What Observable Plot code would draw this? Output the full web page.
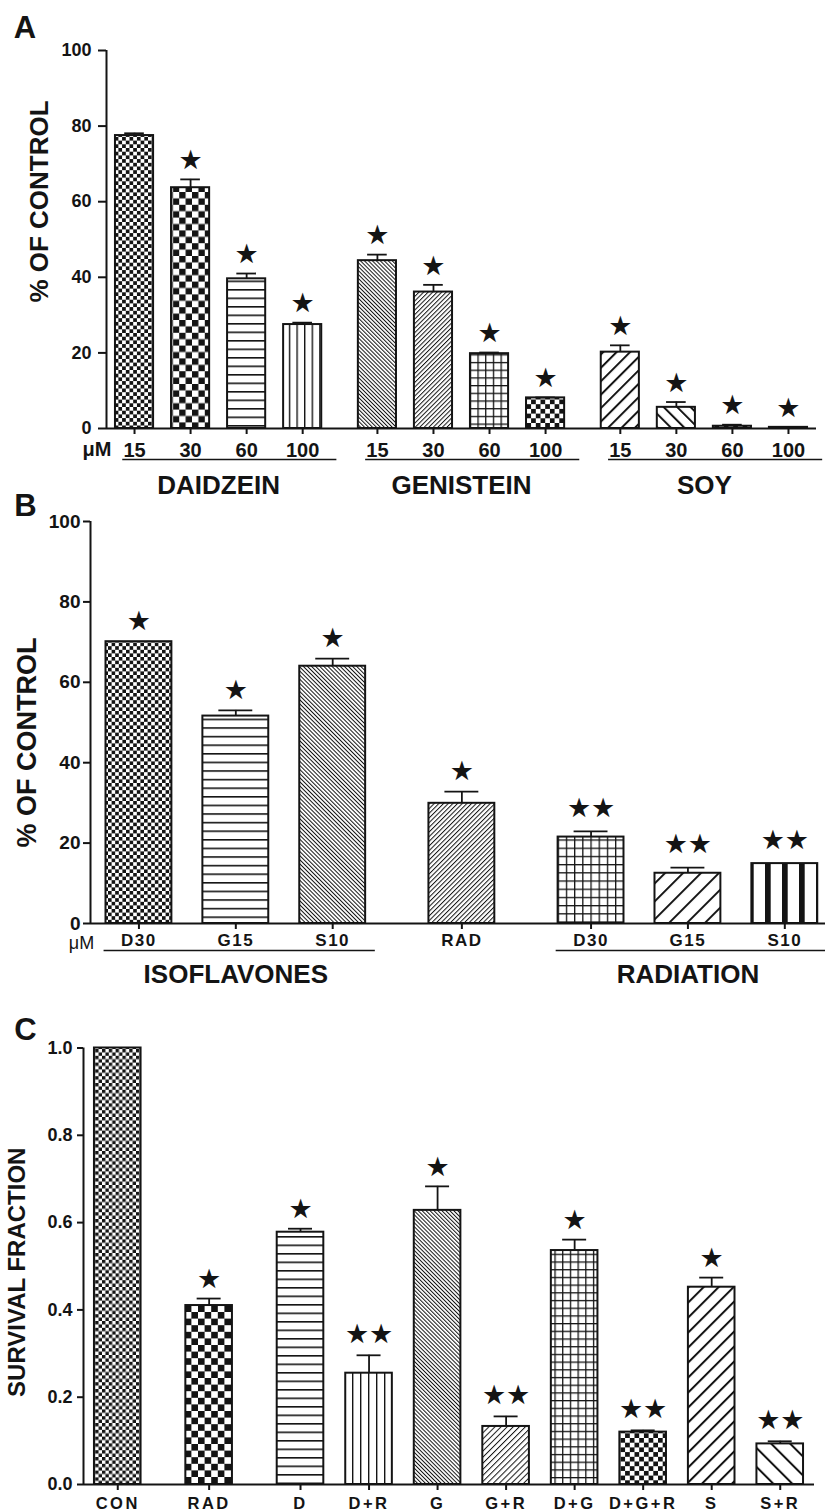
<!DOCTYPE html>
<html><head><meta charset="utf-8">
<script src="https://cdn.jsdelivr.net/npm/d3@7"></script>
<script src="https://cdn.jsdelivr.net/npm/@observablehq/plot@0.6"></script>
<style>
html,body{margin:0;padding:0;background:#fff;}
#root{width:825px;}
#root svg{display:block;overflow:visible;}
#panelB g[aria-label="x-axis tick label"]{letter-spacing:1.5px;}
#panelC g[aria-label="x-axis tick label"]{letter-spacing:2.5px;}
</style></head><body>
<svg id="patterns" width="0" height="0" style="position:absolute"><defs id="pdefs"></defs></svg>
<div id="root"></div>
<script>
// ================= DATA =================
// Panel A: % of control by dose (µM)
const aGroupNames = ["DAIDZEIN", "GENISTEIN", "SOY"];
const aGroupIndex = [0, 0, 0, 0, 1, 1, 1, 1, 2, 2, 2, 2];
const aLabels = ["15", "30", "60", "100", "15", "30", "60", "100", "15", "30", "60", "100"];
const aValues = [77.5, 63.7, 39.6, 27.5, 44.4, 36.1, 19.8, 8.1, 20.2, 5.6, 0.6, 0.3];
const aErrors = [0.6, 2.2, 1.4, 0.5, 1.6, 1.9, 0.3, 0.1, 1.8, 1.4, 0.4, 0.1];
const aStars = [0, 1, 1, 1, 1, 1, 1, 1, 1, 1, 1, 1];
const aYTicks = [0, 20, 40, 60, 80, 100];

// Panel B: % of control, isoflavones / radiation
const bGroupNames = ["ISOFLAVONES", "", "RADIATION"];
const bGroupIndex = [0, 0, 0, 1, 2, 2, 2];
const bLabels = ["D30", "G15", "S10", "RAD", "D30", "G15", "S10"];
const bValues = [70.1, 51.6, 64.0, 29.9, 21.5, 12.5, 14.9];
const bErrors = [0, 1.4, 1.9, 2.9, 1.4, 1.4, 0];
const bStars = [1, 1, 1, 1, 2, 2, 2];
const bYTicks = [0, 20, 40, 60, 80, 100];

// Panel C: survival fraction
const cGroupIndex = [0, 1, 2, 2, 2, 2, 2, 2, 2, 2];
const cLabels = ["CON", "RAD", "D", "D+R", "G", "G+R", "D+G", "D+G+R", "S", "S+R"];
const cValues = [1.0, 0.41, 0.578, 0.255, 0.628, 0.133, 0.536, 0.12, 0.452, 0.093];
const cErrors = [0, 0.016, 0.008, 0.041, 0.055, 0.023, 0.025, 0.004, 0.022, 0.006];
const cStars = [0, 1, 1, 2, 1, 2, 1, 2, 1, 2];
const cYTicks = [0, 0.2, 0.4, 0.6, 0.8, 1.0];

// ================= STYLE =================
const INK = "#141414";
const FONT = "'Liberation Sans', Arial, Helvetica, sans-serif";
const STAR_FONT = "'DejaVu Sans', sans-serif";
const GAP = 1 / 3;        // extra slot between groups
const HALF_BAR = 0.34;    // half bar width (slots)
const HALF_CAP = 0.175;   // half error-cap width (slots)

// fill patterns for each bar
const aFills = ["a_chkF", "a_chkL", "a_hl", "a_vl", "a_bsD", "a_fsD", "a_grid", "a_chkM", "a_fsW", "a_bsW", "a_chkM", "a_chkM"];
const bFills = ["b_chkF", "b_hl", "b_bsD", "b_fsD", "b_grid", "b_fsW", "b_vbar"];
const cFills = ["c_chkF", "c_chkL", "c_hl", "c_vl", "c_bsD", "c_fsM", "c_grid", "c_chkM", "c_fsW", "c_bsW"];

function checker(id, c) {
  const s = 2 * c;
  return `<pattern id="${id}" width="${s}" height="${s}" patternUnits="userSpaceOnUse"><rect width="${s}" height="${s}" fill="#fff"/><rect width="${c}" height="${c}" fill="${INK}"/><rect x="${c}" y="${c}" width="${c}" height="${c}" fill="${INK}"/></pattern>`;
}
function lines(id, p, w, angle) {
  return `<pattern id="${id}" width="${p}" height="${p}" patternUnits="userSpaceOnUse" patternTransform="rotate(${angle})"><rect width="${p}" height="${p}" fill="#fff"/><rect width="${w}" height="${p}" fill="${INK}"/></pattern>`;
}
function grid(id, p, w) {
  return `<pattern id="${id}" width="${p}" height="${p}" patternUnits="userSpaceOnUse"><rect width="${p}" height="${p}" fill="#fff"/><rect width="${w}" height="${p}" fill="${INK}"/><rect width="${p}" height="${w}" fill="${INK}"/></pattern>`;
}
document.getElementById("pdefs").innerHTML = [
  checker("a_chkF", 3.7), checker("a_chkL", 6.4), lines("a_hl", 8.5, 1.6, 90), lines("a_vl", 7.6, 1.4, 0),
  lines("a_bsD", 2.8, 1, -45), lines("a_fsD", 3.2, 1, 45), grid("a_grid", 7.7, 1.3), checker("a_chkM", 4.7),
  lines("a_fsW", 9.5, 2, 45), lines("a_bsW", 9.5, 2, -45),
  checker("b_chkF", 3.6), lines("b_hl", 8.6, 1.6, 90), lines("b_bsD", 2.9, 1, -45), lines("b_fsD", 3.3, 1, 45),
  grid("b_grid", 8.2, 1.3), lines("b_fsW", 12.7, 2, 45), lines("b_vbar", 17, 5.7, 0),
  checker("c_chkF", 3.4), checker("c_chkL", 6.6), lines("c_hl", 8.5, 1.6, 90), lines("c_vl", 8, 1.4, 0),
  lines("c_bsD", 2.8, 1, -45), lines("c_fsM", 4.3, 1, 45), grid("c_grid", 7.7, 1.3), checker("c_chkM", 4.7),
  lines("c_fsW", 10.6, 2, 45), lines("c_bsW", 13.4, 2, -45)
].join("");

// ================= HELPERS =================
function buildRows(labels, groups, values, errors, stars, fills) {
  return labels.map((label, i) => ({
    label, group: groups[i], pos: i + groups[i] * GAP,
    value: values[i], err: errors[i], stars: stars[i], fill: `url(#${fills[i]})`
  }));
}
function groupSpans(rows, names) {
  return names.map((name, g) => {
    const r = rows.filter(d => d.group === g);
    return {name, first: r[0].pos, last: r[r.length - 1].pos, center: (r[0].pos + r[r.length - 1].pos) / 2};
  }).filter(d => d.name);
}
const errTop = d => d.value + d.err;
function barMarks(rows, starGap, starGap2) {
  const withErr = rows.filter(d => d.err > 0);
  const sf = {fontFamily: STAR_FONT, fontSize: 27, fill: INK, lineAnchor: "middle"};
  return [
    Plot.rect(rows, {x1: d => d.pos - HALF_BAR, x2: d => d.pos + HALF_BAR, y1: 0, y2: "value", fill: "fill", stroke: INK, strokeWidth: 2}),
    Plot.ruleX(withErr, {x: "pos", y1: "value", y2: errTop, stroke: INK, strokeWidth: 1.8}),
    Plot.ruleY(withErr, {y: errTop, x1: d => d.pos - HALF_CAP, x2: d => d.pos + HALF_CAP, stroke: INK, strokeWidth: 1.8}),
    Plot.text(rows.filter(d => d.stars === 1), {x: "pos", y: errTop, text: () => "★", dy: -starGap, ...sf}),
    Plot.text(rows.filter(d => d.stars === 2), {x: "pos", y: errTop, text: () => "★", dx: -12, dy: -starGap2, ...sf}),
    Plot.text(rows.filter(d => d.stars === 2), {x: "pos", y: errTop, text: () => "★", dx: 12, dy: -starGap2, ...sf})
  ];
}
function axisMarks(rows, yTicks, yMax, xMin, o) {
  const labelOf = new Map(rows.map(d => [d.pos, d.label]));
  return [
    Plot.ruleY([0], {stroke: INK, strokeWidth: 2}),
    Plot.ruleX([xMin], {y1: 0, y2: yMax, stroke: INK, strokeWidth: 2}),
    Plot.axisY({ticks: yTicks, tickFormat: o.yFormat, tickSize: o.yTickSize, tickPadding: o.yPad, fontSize: o.yFont, fontWeight: "bold", strokeWidth: 2, label: null, fill: INK, stroke: INK}),
    Plot.axisX({ticks: rows.map(d => d.pos), tickFormat: p => labelOf.get(p), tickSize: 6, tickPadding: o.xPad, fontSize: o.xFont, fontWeight: "bold", strokeWidth: 2, label: null, fill: INK, stroke: INK})
  ];
}
function note(txt, opts) {
  return Plot.text([txt], {text: d => d, textAnchor: "middle", lineAnchor: "middle", fill: INK, fontWeight: "bold", ...opts});
}

const root = document.getElementById("root");

// ================= PANEL A =================
{
  const rows = buildRows(aLabels, aGroupIndex, aValues, aErrors, aStars, aFills);
  const groups = groupSpans(rows, aGroupNames);
  const xMin = -0.5, xMax = rows[rows.length - 1].pos + 0.5;
  const p = Plot.plot({
    width: 825, height: 495,
    marginTop: 50, marginBottom: 67, marginLeft: 106, marginRight: 9,
    x: {domain: [xMin, xMax], axis: null},
    y: {domain: [0, 100], axis: null},
    color: {type: "identity"},
    style: {fontFamily: FONT, color: INK, background: "#fff"},
    marks: [
      ...barMarks(rows, 19, 21),
      ...axisMarks(rows, aYTicks, 100, xMin, {yTickSize: 8, yPad: 7, yFont: 18, xPad: 8, xFont: 20}),
      note("μM", {frameAnchor: "bottom-left", dx: -9.5, dy: 21, fontSize: 20}),
      Plot.ruleY(groups, {y: 0, x1: d => d.first - 0.21, x2: d => d.last + 0.61, dy: 31, stroke: INK, strokeWidth: 1.5}),
      Plot.text(groups, {x: "center", y: 0, text: "name", dy: 57, lineAnchor: "middle", fontSize: 26, fontWeight: "bold", fill: INK}),
      note("% OF CONTROL", {frameAnchor: "left", rotate: -90, dx: -66.5, dy: -38, fontSize: 26}),
      note("A", {frameAnchor: "top-left", dx: -81.5, dy: -22.5, fontSize: 31})
    ]
  });
  p.id = "panelA";
  root.appendChild(p);
}

// ================= PANEL B =================
{
  const rows = buildRows(bLabels, bGroupIndex, bValues, bErrors, bStars, bFills);
  const groups = groupSpans(rows, bGroupNames);
  const xMin = -0.5, xMax = rows[rows.length - 1].pos + 0.42;
  const p = Plot.plot({
    width: 825, height: 520,
    marginTop: 26, marginBottom: 92, marginLeft: 90, marginRight: 0,
    x: {domain: [xMin, xMax], axis: null},
    y: {domain: [0, 100], axis: null},
    color: {type: "identity"},
    style: {fontFamily: FONT, color: INK, background: "#fff"},
    marks: [
      ...barMarks(rows, 20, 23),
      ...axisMarks(rows, bYTicks, 100, xMin, {yTickSize: 7, yPad: 3, yFont: 19, xPad: 4, xFont: 17}),
      note("μM", {frameAnchor: "bottom-left", dx: -9, dy: 20, fontSize: 18, fontWeight: "normal"}),
      Plot.ruleY(groups, {y: 0, x1: d => d.first - 0.36, x2: d => d.last + 0.44, dy: 27, stroke: INK, strokeWidth: 1.5}),
      Plot.text(groups, {x: "center", y: 0, text: "name", dy: 51, lineAnchor: "middle", fontSize: 26, fontWeight: "bold", fill: INK}),
      note("% OF CONTROL", {frameAnchor: "left", rotate: -90, dx: -63, dy: 20, fontSize: 27}),
      note("B", {frameAnchor: "top-left", dx: -65, dy: -15.5, fontSize: 31})
    ]
  });
  p.id = "panelB";
  root.appendChild(p);
}

// ================= PANEL C =================
{
  const rows = buildRows(cLabels, cGroupIndex, cValues, cErrors, cStars, cFills);
  const xMin = -0.5, xMax = rows[rows.length - 1].pos + 0.5;
  const p = Plot.plot({
    width: 825, height: 495,
    marginTop: 32.5, marginBottom: 26, marginLeft: 83, marginRight: 11,
    x: {domain: [xMin, xMax], axis: null},
    y: {domain: [0, 1], axis: null},
    color: {type: "identity"},
    style: {fontFamily: FONT, color: INK, background: "#fff"},
    marks: [
      ...barMarks(rows, 19, 21),
      ...axisMarks(rows, cYTicks, 1, xMin, {yFormat: d3.format(".1f"), yTickSize: 6, yPad: 5, yFont: 18, xPad: 7, xFont: 16.5}),
      note("SURVIVAL FRACTION", {frameAnchor: "left", rotate: -90, dx: -66, dy: 6, fontSize: 24}),
      note("C", {frameAnchor: "top-left", dx: -58, dy: -17.5, fontSize: 31})
    ]
  });
  p.id = "panelC";
  root.appendChild(p);
}
</script></body></html>
